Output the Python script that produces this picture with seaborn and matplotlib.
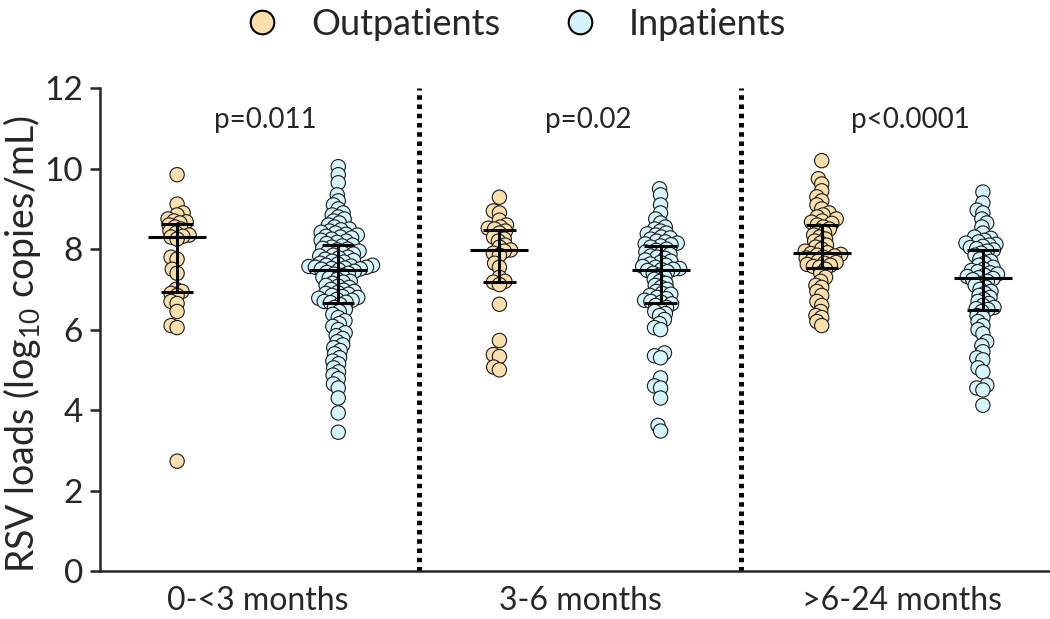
import numpy as np
import pandas as pd
import matplotlib
matplotlib.use("Agg")
import matplotlib.pyplot as plt
import seaborn as sns
from matplotlib.lines import Line2D

# ==========================================
# DATA (log10 copies/mL)
# ==========================================
age_groups = ["0-<3 months", "3-6 months", ">6-24 months"]
patient_types = ["Outpatients", "Inpatients"]
p_values = ["p=0.011", "p=0.02", "p<0.0001"]

out_0_3 = [9.85, 9.12, 8.9, 8.85, 8.75, 8.7, 8.68, 8.65, 8.6, 8.55, 8.5, 8.45,
           8.4, 8.35, 8.32, 8.3, 8.25, 7.8, 7.75, 7.5, 7.4, 7.0, 6.95, 6.9,
           6.85, 6.7, 6.65, 6.45, 6.1, 6.05, 2.73]
in_0_3 = [10.05, 9.85, 9.65, 9.35, 9.2, 9.1, 9.0, 8.9, 8.85, 8.8, 8.75, 8.7,
          8.65, 8.6, 8.55, 8.5, 8.48, 8.45, 8.42, 8.4, 8.37, 8.35, 8.32, 8.3,
          8.28, 8.25, 8.22, 8.2, 8.17, 8.14,
          8.1, 8.08, 8.05, 8.02, 8.0, 7.98, 7.95, 7.92, 7.9, 7.88, 7.85, 7.83,
          7.8, 7.78, 7.75, 7.72, 7.7, 7.68, 7.65, 7.63, 7.6, 7.6, 7.58, 7.57,
          7.55, 7.55, 7.53, 7.52, 7.51, 7.5,
          7.48, 7.45, 7.42, 7.4, 7.38, 7.35, 7.3, 7.28, 7.25, 7.2, 7.18, 7.15,
          7.1, 7.08, 7.05, 7.0, 6.98, 6.95, 6.92, 6.9, 6.88, 6.85, 6.82, 6.8,
          6.78, 6.75, 6.73, 6.7, 6.68, 6.67,
          6.62, 6.55, 6.5, 6.45, 6.38, 6.3, 6.22, 6.15, 6.08, 6.0, 5.92, 5.85,
          5.78, 5.7, 5.62, 5.55, 5.48, 5.4, 5.3, 5.22, 5.15, 5.05, 4.95, 4.87,
          4.78, 4.65, 4.55, 4.3, 3.93, 3.45]

out_3_6 = [9.29, 8.95, 8.9, 8.72, 8.6, 8.55, 8.52, 8.5, 8.45, 8.4, 8.3, 8.25,
           8.2, 8.1, 8.05, 7.98, 7.95, 7.9, 7.85, 7.65, 7.55, 7.3, 7.2, 7.18,
           7.12, 6.63, 5.73, 5.38, 5.33, 5.07, 5.0]
in_3_6 = [9.5, 9.35, 9.1, 8.9, 8.75, 8.65, 8.55, 8.5, 8.45, 8.4, 8.38, 8.35,
          8.3, 8.28, 8.25, 8.2, 8.18, 8.15, 8.13, 8.11,
          8.08, 8.05, 8.0, 7.97, 7.93, 7.9, 7.87, 7.83, 7.8, 7.77, 7.73, 7.7,
          7.67, 7.63, 7.6, 7.57, 7.55, 7.52, 7.5, 7.49,
          7.47, 7.44, 7.4, 7.35, 7.3, 7.25, 7.2, 7.15, 7.1, 7.05, 7.0, 6.95,
          6.9, 6.88, 6.85, 6.8, 6.77, 6.73, 6.7, 6.68,
          6.64, 6.6, 6.55, 6.5, 6.45, 6.4, 6.35, 6.25, 6.15, 6.05, 6.0, 5.42,
          5.35, 5.3, 4.8, 4.6, 4.55, 4.3, 3.62, 3.48]

out_6_24 = [10.2, 9.75, 9.62, 9.45, 9.3, 9.2, 9.1, 9.0, 8.9, 8.85, 8.8, 8.75,
            8.7, 8.67, 8.64,
            8.6, 8.55, 8.5, 8.45, 8.4, 8.35, 8.3, 8.25, 8.2, 8.15, 8.1, 8.05,
            8.0, 7.95, 7.91,
            7.89, 7.87, 7.85, 7.83, 7.8, 7.78, 7.75, 7.72, 7.7, 7.67, 7.65,
            7.62, 7.6, 7.57, 7.55,
            7.5, 7.4, 7.3, 7.2, 7.1, 7.05, 6.95, 6.85, 6.7, 6.6, 6.45, 6.35,
            6.3, 6.2, 6.1]
in_6_24 = [9.42, 9.15, 8.97, 8.9, 8.75, 8.65, 8.55, 8.4, 8.3, 8.27, 8.22, 8.18,
           8.15, 8.12, 8.1, 8.07, 8.04, 8.01,
           7.98, 7.95, 7.9, 7.85, 7.8, 7.75, 7.7, 7.65, 7.6, 7.55, 7.5, 7.47,
           7.44, 7.41, 7.38, 7.35, 7.32, 7.29,
           7.27, 7.24, 7.2, 7.15, 7.1, 7.05, 7.0, 6.95, 6.9, 6.85, 6.8, 6.75,
           6.7, 6.65, 6.6, 6.55, 6.52, 6.5,
           6.45, 6.35, 6.3, 6.2, 6.1, 6.0, 5.9, 5.7, 5.6, 5.45, 5.3, 5.25,
           5.05, 4.95, 4.62, 4.55, 4.5, 4.12]

colors = {"Outpatients": "#FADFAE", "Inpatients": "#D6F4FB"}

# long table: one x slot per (age group, patient type)
rows = []
for age, out_vals, in_vals in zip(age_groups,
                                   [out_0_3, out_3_6, out_6_24],
                                   [in_0_3, in_3_6, in_6_24]):
    for ptype, vals in zip(patient_types, [out_vals, in_vals]):
        for v in vals:
            rows.append({"slot": f"{age} | {ptype}", "type": ptype, "load": v})
df = pd.DataFrame(rows)
slot_order = [f"{a} | {p}" for a in age_groups for p in patient_types]

# ==========================================
# PLOT
# ==========================================
sns.set_style("ticks")
plt.rcParams["font.family"] = ["Lato", "DejaVu Sans"]
plt.rcParams["mathtext.default"] = "regular"

fig = plt.figure(figsize=(10.5, 6.19), dpi=100)
ax = fig.add_axes([0.095, 0.0775, 0.904, 0.780])

sns.swarmplot(data=df, x="slot", y="load", hue="type", order=slot_order,
              hue_order=patient_types, palette=colors, size=3.6,
              edgecolor="#1a1a1a", linewidth=0.8, legend=False, ax=ax)
ax.set_xlim(-0.48, 5.41)
ax.set_ylim(0, 12)

# lay the swarm out with small markers, then draw them bigger so they overlap
fig.canvas.draw()
for pts in ax.collections:
    if "draw" in vars(pts):
        del pts.draw
    pts.set_sizes([10.3 ** 2])

# median with interquartile range
for i, slot in enumerate(slot_order):
    vals = df.loc[df["slot"] == slot, "load"].to_numpy()
    q1, med, q3 = np.percentile(vals, [25, 50, 75])
    ax.hlines(med, i - 0.18, i + 0.18, color="black", lw=2.2, zorder=5)
    ax.hlines([q1, q3], i - 0.1, i + 0.1, color="black", lw=2.2, zorder=5)
    ax.vlines(i, q1, q3, color="black", lw=2.2, zorder=5)

for xsep in [1.5, 3.5]:
    ax.axvline(xsep, color="black", lw=3.6, ls=(0, (0.9, 0.95)), zorder=1)

for k, ptxt in enumerate(p_values):
    ax.text(2 * k + 0.55, 11.2, ptxt, ha="center", va="center", fontsize=20)

ax.set_xticks([0.5, 2.5, 4.5])
ax.set_xticklabels(age_groups, fontsize=23)
ax.set_yticks(range(0, 13, 2))
ax.tick_params(axis="y", labelsize=24, length=7, width=1.8, pad=5)
ax.tick_params(axis="x", length=0, pad=11)
ax.set_xlabel("")
ax.set_ylabel("RSV loads (log$_{10}$ copies/mL)", fontsize=27)
ax.yaxis.set_label_coords(-0.06, 0.47)
for side in ["left", "bottom"]:
    ax.spines[side].set_linewidth(1.8)
sns.despine(ax=ax)

handles = [Line2D([], [], ls="", marker="o", markersize=17,
                  markerfacecolor=colors[p], markeredgecolor="black",
                  markeredgewidth=1.5) for p in patient_types]
fig.legend(handles, patient_types, loc="upper center", bbox_to_anchor=(0.482, 1.04),
           ncol=2, frameon=False, fontsize=26, columnspacing=1.2,
           handletextpad=0.35)

fig.savefig("out.png", dpi=100)
